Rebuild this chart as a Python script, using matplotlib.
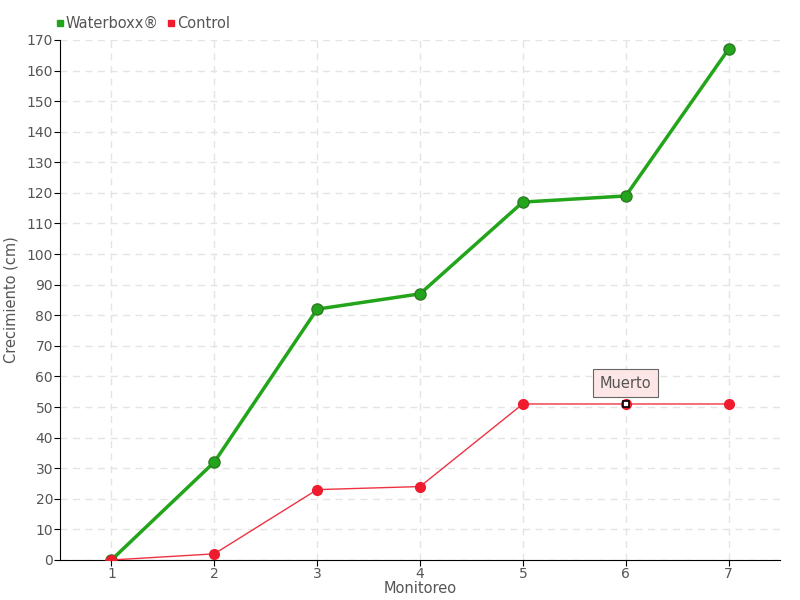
import matplotlib
matplotlib.use("Agg")
import matplotlib.pyplot as plt
from matplotlib.lines import Line2D

monitoreo = [1, 2, 3, 4, 5, 6, 7]
waterboxx = [0, 32, 82, 87, 117, 119, 167]
control = [0, 2, 23, 24, 51, 51, 51]
yticks = list(range(0, 171, 10))

plt.rcParams['font.family'] = ['DejaVu Sans']
fig = plt.figure(figsize=(8, 6), dpi=100)
ax = fig.add_axes([0.075, 0.0667, 0.9, 0.8667])

green = '#22a51a'
red = '#ee1c2c'
txt = '#555555'

ax.plot(monitoreo, waterboxx, color=green, lw=2.5, marker='o', ms=8,
        mfc=green, mec='#2d7a25', mew=1, zorder=3)
ax.plot(monitoreo, control, color=red, lw=1, alpha=0.9, zorder=4)
ax.plot(monitoreo, control, ls='none', marker='o', ms=7, mfc=red, mec=red, zorder=5)
ax.plot([monitoreo[5]], [control[5]], ls='none', marker='s', ms=5, mfc='white',
        mec='black', mew=1.2, zorder=6)

ax.annotate('Muerto', xy=(monitoreo[5], control[5]), xytext=(0, 15),
            textcoords='offset points', ha='center', va='center', fontsize=10.5,
            color=txt,
            bbox=dict(boxstyle='square,pad=0.45', fc='#fde6e6', ec='#666666', lw=0.8),
            arrowprops=dict(arrowstyle='-', color='#666666', lw=0.8))

ax.set_xlim(0.5, 7.5)
ax.set_ylim(0, 170)
ax.set_xticks(monitoreo)
ax.set_yticks(yticks)
ax.grid(True, color='#e4e4e4', ls=(0, (5, 4)), lw=1)
ax.set_axisbelow(True)
for s in ['top', 'right']:
    ax.spines[s].set_visible(False)
ax.spines['left'].set_color('black')
ax.spines['bottom'].set_color('black')
ax.tick_params(colors=txt, labelsize=10, length=4, color='black', pad=1)
ax.set_xlabel('Monitoreo', color=txt, fontsize=10.5)
ax.set_ylabel('Crecimiento (cm)', color=txt, fontsize=10.5)
ax.xaxis.set_label_coords(0.5, -0.04)
ax.yaxis.set_label_coords(-0.058, 0.5)

handles = [Line2D([], [], ls='none', marker='s', ms=5, color=green),
           Line2D([], [], ls='none', marker='s', ms=5, color=red)]
fig.legend(handles, ['Waterboxx®', 'Control'], loc='upper left',
           bbox_to_anchor=(0.052, 0.995), ncol=2, frameon=False, fontsize=10.5,
           labelcolor=txt, handletextpad=0.05, columnspacing=0.5, handlelength=0.7)

fig.savefig('out.png', dpi=100)
